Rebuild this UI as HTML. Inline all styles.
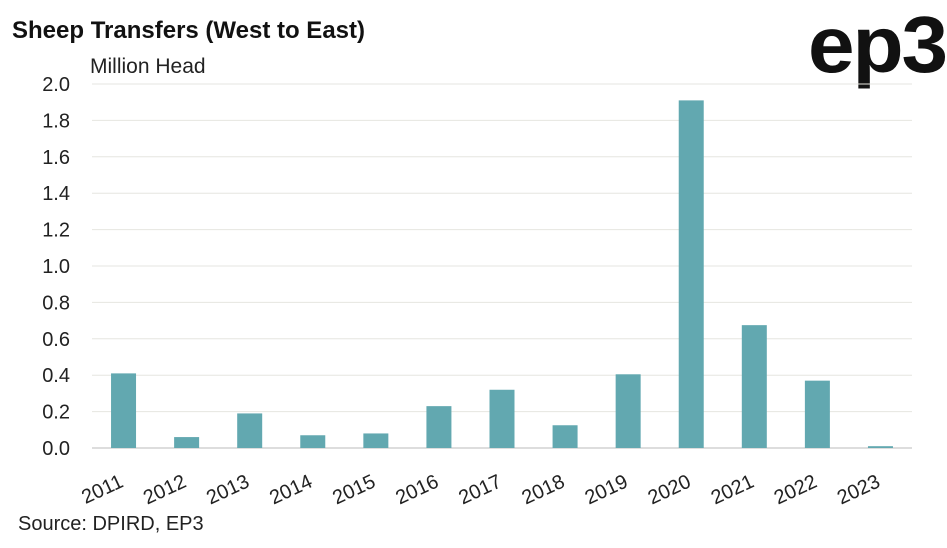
<!DOCTYPE html>
<html><head><meta charset="utf-8"><style>
body{margin:0;background:#fff;width:947px;height:543px;overflow:hidden;font-family:"Liberation Sans",sans-serif;}
</style></head><body>
<svg width="947" height="543">
<text x="12" y="38" font-size="24" font-weight="bold" fill="#111">Sheep Transfers (West to East)</text>
<text x="808" y="72" font-size="80" font-weight="bold" fill="#111" letter-spacing="-2" textLength="138" lengthAdjust="spacingAndGlyphs">ep3</text>
<text x="90" y="73" font-size="21" fill="#222">Million Head</text>
<text x="18" y="530" font-size="20" fill="#222">Source: DPIRD, EP3</text>
<g id="grid"></g><g id="bars"></g><g id="xl"></g>
</svg>
<script>
const categories=["2011","2012","2013","2014","2015","2016","2017","2018","2019","2020","2021","2022","2023"];
const values=[0.41,0.06,0.19,0.07,0.08,0.23,0.32,0.125,0.405,1.91,0.675,0.37,0.01];
const ticks=[0,0.2,0.4,0.6,0.8,1.0,1.2,1.4,1.6,1.8,2.0];
const x0=92,x1=912,y0=448,y1=84;
const ns="http://www.w3.org/2000/svg";
const y=v=>y0-(v/2)*(y0-y1);
const step=(x1-x0)/categories.length;
const g=document.getElementById('grid'),b=document.getElementById('bars'),xl=document.getElementById('xl');
ticks.forEach(t=>{
 const l=document.createElementNS(ns,'line');
 l.setAttribute('x1',x0);l.setAttribute('x2',x1);l.setAttribute('y1',y(t));l.setAttribute('y2',y(t));
 l.setAttribute('stroke',t===0?'#bbb':'#e6e6e0');l.setAttribute('stroke-width','1');
 
 
 g.appendChild(l);
 const tx=document.createElementNS(ns,'text');
 tx.setAttribute('x',70);tx.setAttribute('y',y(t)+7);tx.setAttribute('text-anchor','end');
 tx.setAttribute('font-size','20');tx.setAttribute('fill','#222');
 tx.textContent=t.toFixed(1);
 
 
 g.appendChild(tx);
});
categories.forEach((c,i)=>{
 const cx=x0+step*(i+0.5);
 const r=document.createElementNS(ns,'rect');
 r.setAttribute('x',cx-12.5);r.setAttribute('width',25);
 r.setAttribute('y',y(values[i]));r.setAttribute('height',y0-y(values[i]));
 r.setAttribute('fill','#62a8b0');
 
 
 b.appendChild(r);
 const t=document.createElementNS(ns,'text');
 t.setAttribute('transform',`translate(${cx+1},${y0+38}) rotate(-25)`);
 t.setAttribute('text-anchor','end');t.setAttribute('font-size','20');t.setAttribute('fill','#222');
 t.textContent=c;
 
 
 xl.appendChild(t);
});
</script>
</body></html>
